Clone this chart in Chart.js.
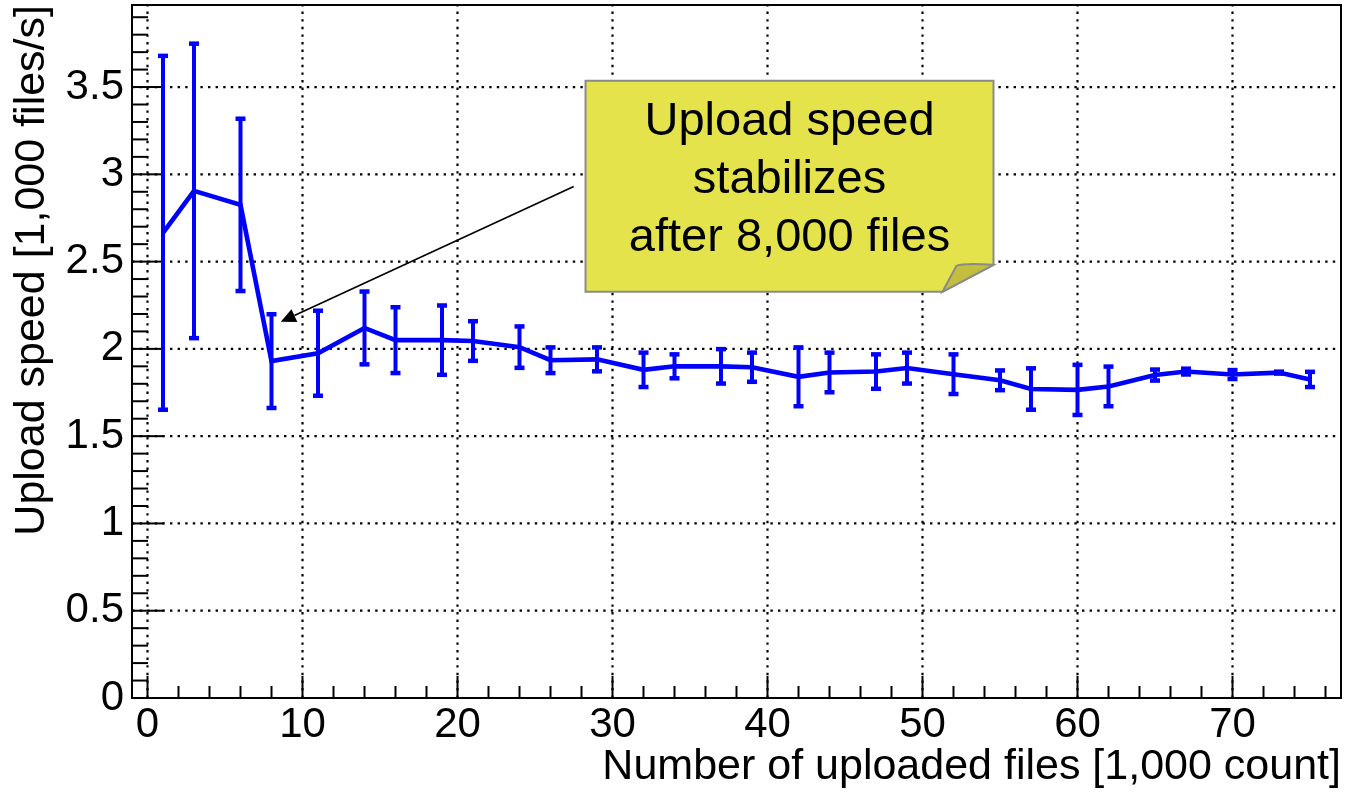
<!DOCTYPE html>
<html>
<head>
<meta charset="utf-8">
<title>Upload speed</title>
<script src="https://cdn.jsdelivr.net/npm/chart.js@4.4.1/dist/chart.umd.min.js"></script>
<style>
  html, body { margin: 0; padding: 0; background: #fff; }
</style>
</head>
<body>
<canvas id="speedChart" width="1349" height="793"></canvas>
<script>
// files uploaded so far, in thousands
const uploadedK = [1, 3, 6, 8, 11, 14, 16, 19, 21, 24, 26, 29, 32, 34, 37, 39, 42, 44, 47, 49, 52, 55, 57, 60, 62, 65, 67, 70, 73, 75];
// mean upload speed (1,000 files/s) and its error
const speed = [2.665, 2.905, 2.825, 1.93, 1.975, 2.12, 2.05, 2.05, 2.045, 2.01, 1.935, 1.94, 1.88, 1.90, 1.90, 1.895, 1.84, 1.865, 1.87, 1.89, 1.855, 1.82, 1.77, 1.765, 1.785, 1.85, 1.87, 1.853, 1.864, 1.825];
const speedErr = [1.015, 0.845, 0.495, 0.27, 0.245, 0.21, 0.19, 0.2, 0.115, 0.12, 0.075, 0.07, 0.1, 0.07, 0.1, 0.085, 0.17, 0.115, 0.1, 0.09, 0.115, 0.058, 0.12, 0.145, 0.115, 0.033, 0.018, 0.027, 0.007, 0.045];

const xTicks = [0, 10, 20, 30, 40, 50, 60, 70];
const yTicks = [0, 0.5, 1, 1.5, 2, 2.5, 3, 3.5];

const noteLines = ["Upload speed", "stabilizes", "after 8,000 files"];
// callout box corners and arrow, in axis units
const noteBox = { x0: 28.26, x1: 54.58, yTop: 3.536, yBottom: 2.327 };
const noteArrow = { from: [27.5, 2.93], to: [8.6, 2.155] };

const FONT = "'Liberation Sans', Arial, Helvetica, sans-serif";
const BLUE = "#0000ff";

// ROOT-like frame: dotted grid, inward ticks
const axisFrame = {
  id: "axisFrame",
  beforeDatasetsDraw(chart) {
    const { ctx, chartArea: a, scales: { x, y } } = chart;
    ctx.save();
    ctx.strokeStyle = "#000";
    ctx.lineWidth = 2.2;
    ctx.setLineDash([2.4, 5.2]);
    xTicks.forEach(v => {
      const px = x.getPixelForValue(v);
      ctx.beginPath(); ctx.moveTo(px, a.bottom); ctx.lineTo(px, a.top); ctx.stroke();
    });
    yTicks.forEach(v => {
      const py = y.getPixelForValue(v);
      ctx.beginPath(); ctx.moveTo(a.left, py); ctx.lineTo(a.right, py); ctx.stroke();
    });
    ctx.setLineDash([]);
    ctx.lineWidth = 2;
    for (let v = 0; v <= 76; v += 2) {
      const px = x.getPixelForValue(v);
      const len = v % 10 === 0 ? 22 : 12;
      ctx.beginPath(); ctx.moveTo(px, a.bottom); ctx.lineTo(px, a.bottom - len); ctx.stroke();
    }
    for (let i = 0; i <= 39; i++) {
      const py = y.getPixelForValue(i / 10);
      const len = i % 5 === 0 ? 32 : 16;
      ctx.beginPath(); ctx.moveTo(a.left, py); ctx.lineTo(a.left + len, py); ctx.stroke();
    }
    ctx.strokeRect(a.left, a.top, a.right - a.left, a.bottom - a.top);
    ctx.restore();
  }
};

// vertical error bars with small caps
const errorBars = {
  id: "errorBars",
  afterDatasetsDraw(chart) {
    const { ctx, scales: { x, y } } = chart;
    ctx.save();
    ctx.strokeStyle = BLUE;
    ctx.fillStyle = BLUE;
    ctx.lineWidth = 4;
    uploadedK.forEach((k, i) => {
      const px = x.getPixelForValue(k);
      const top = y.getPixelForValue(speed[i] + speedErr[i]);
      const bot = y.getPixelForValue(speed[i] - speedErr[i]);
      ctx.beginPath(); ctx.moveTo(px, top); ctx.lineTo(px, bot); ctx.stroke();
      ctx.fillRect(px - 5, top - 2, 10, 4.5);
      ctx.fillRect(px - 5, bot - 2.5, 10, 4.5);
    });
    ctx.restore();
  }
};

// yellow note with a folded corner and an arrow
const callout = {
  id: "callout",
  afterDraw(chart) {
    const { ctx, scales: { x, y } } = chart;
    const L = x.getPixelForValue(noteBox.x0), R = x.getPixelForValue(noteBox.x1);
    const T = y.getPixelForValue(noteBox.yTop), B = y.getPixelForValue(noteBox.yBottom);
    const foldW = 51, foldH = 27, flapIn = 37;
    ctx.save();
    ctx.lineJoin = "miter";
    ctx.beginPath();
    ctx.moveTo(L, T); ctx.lineTo(R, T); ctx.lineTo(R, B - foldH);
    ctx.lineTo(R - foldW, B); ctx.lineTo(L, B); ctx.closePath();
    ctx.fillStyle = "#e5e34c";
    ctx.fill();
    ctx.strokeStyle = "#8a8a8a";
    ctx.lineWidth = 2;
    ctx.stroke();
    ctx.beginPath();
    ctx.moveTo(R - foldW, B); ctx.lineTo(R - flapIn, B - foldH + 1);
    ctx.quadraticCurveTo(R - 30, B - foldH - 2, R, B - foldH);
    ctx.closePath();
    ctx.fillStyle = "#c3be3d";
    ctx.fill();
    ctx.stroke();

    ctx.fillStyle = "#000";
    ctx.font = "47px " + FONT;
    ctx.textAlign = "center";
    ctx.textBaseline = "alphabetic";
    const cx = (L + R) / 2;
    noteLines.forEach((t, i) => ctx.fillText(t, cx, T + 54 + i * 58));

    const sx = x.getPixelForValue(noteArrow.from[0]), sy = y.getPixelForValue(noteArrow.from[1]);
    const tx = x.getPixelForValue(noteArrow.to[0]), ty = y.getPixelForValue(noteArrow.to[1]);
    const ang = Math.atan2(ty - sy, tx - sx);
    const hl = 15, hw = 7;
    const bx = tx - hl * Math.cos(ang), by = ty - hl * Math.sin(ang);
    ctx.strokeStyle = "#000";
    ctx.lineWidth = 1.6;
    ctx.beginPath(); ctx.moveTo(sx, sy); ctx.lineTo(bx, by); ctx.stroke();
    ctx.beginPath();
    ctx.moveTo(tx, ty);
    ctx.lineTo(bx + hw * Math.sin(ang), by - hw * Math.cos(ang));
    ctx.lineTo(bx - hw * Math.sin(ang), by + hw * Math.cos(ang));
    ctx.closePath();
    ctx.fillStyle = "#000";
    ctx.fill();
    ctx.restore();
  }
};

const ctx = document.getElementById("speedChart").getContext("2d");
const speedChart = new Chart(ctx, {
  type: "line",
  data: {
    datasets: [{
      label: "Upload speed",
      data: uploadedK.map((k, i) => ({ x: k, y: speed[i] })),
      borderColor: BLUE,
      borderWidth: 4.6,
      pointRadius: 0,
      tension: 0,
      fill: false
    }]
  },
  options: {
    responsive: false,
    animation: false,
    devicePixelRatio: 1,
    layout: { padding: { top: 5, right: 8, left: 0, bottom: 0 } },
    plugins: { legend: { display: false }, tooltip: { enabled: false } },
    scales: {
      x: {
        type: "linear",
        min: -1,
        max: 77,
        afterBuildTicks: s => { s.ticks = xTicks.map(v => ({ value: v })); },
        afterFit: s => { s.height = 95; s.paddingLeft = 0; s.paddingRight = 0; },
        grid: { display: false, drawTicks: false },
        border: { display: false },
        ticks: {
          autoSkip: false, maxRotation: 0, padding: 2, color: "#000",
          font: { family: FONT, size: 42 },
          callback: v => String(v)
        },
        title: {
          display: true, text: "Number of uploaded files [1,000 count]", align: "end",
          color: "#000", font: { family: FONT, size: 43 }, padding: { top: 0, bottom: 0 }
        }
      },
      y: {
        type: "linear",
        min: 0,
        max: 3.97,
        afterBuildTicks: s => { s.ticks = yTicks.map(v => ({ value: v })); },
        afterFit: s => { s.width = 132; s.paddingTop = 0; s.paddingBottom = 0; },
        grid: { display: false, drawTicks: false },
        border: { display: false },
        ticks: {
          autoSkip: false, padding: 8, color: "#000",
          font: { family: FONT, size: 42 },
          callback: v => String(v)
        },
        title: {
          display: true, text: "Upload speed [1,000 files/s]", align: "end",
          color: "#000", font: { family: FONT, size: 43 }, padding: { top: 6, bottom: 0 }
        }
      }
    }
  },
  plugins: [axisFrame, errorBars, callout]
});
</script>
</body>
</html>
